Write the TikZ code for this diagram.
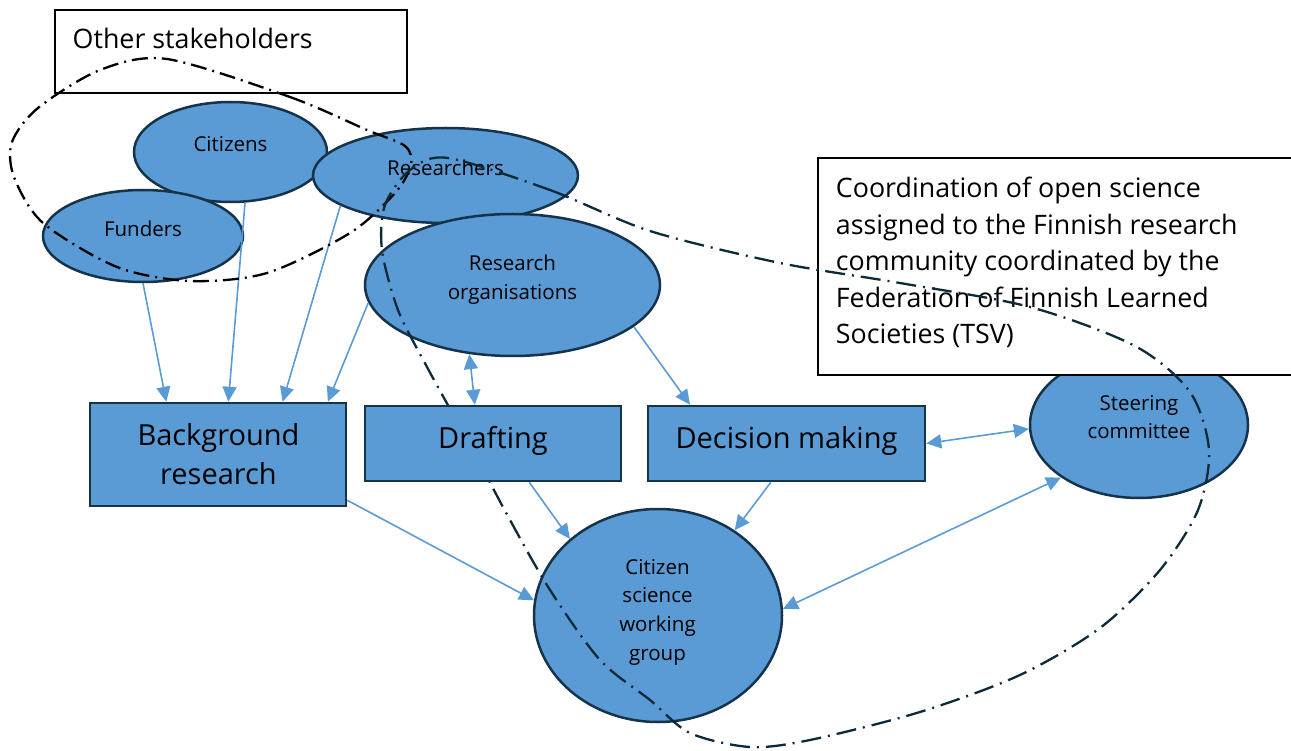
\documentclass[tikz,border=0pt]{standalone}
\usepackage{fontspec}
\setmainfont{Open Sans}
\usetikzlibrary{shapes.geometric,arrows.meta,calc}
\definecolor{nodeblue}{HTML}{5B9BD5}
\definecolor{outl}{HTML}{15334A}
\definecolor{arrowblue}{HTML}{5B9BD5}
\definecolor{curvedark}{HTML}{0D2A38}
\pgfdeclarelayer{front}
\pgfsetlayers{main,front}
\begin{document}
\begin{tikzpicture}[x=1pt,y=-1pt,
  ell/.style={ellipse,draw=outl,fill=nodeblue,line width=2.5pt,inner sep=0pt},
  blk/.style={rectangle,draw=outl,fill=nodeblue,line width=2.5pt,inner sep=0pt},
  etext/.style={inner sep=0pt,font=\fontsize{20.5}{28.7}\selectfont,align=center,text=black},
  btext/.style={inner sep=0pt,font=\fontsize{29}{39}\selectfont,align=center,text=black},
  ltext/.style={inner sep=0pt,font=\fontsize{26.8}{36.5}\selectfont,align=left,text=black},
  conn/.style={draw=arrowblue,line width=1.6pt,-{Triangle[length=15pt,width=14pt]}},
  biconn/.style={draw=arrowblue,line width=1.6pt,{Triangle[length=15pt,width=14pt]}-{Triangle[length=15pt,width=14pt]}},
  frame/.style={draw=black,fill=white,line width=1.6pt},
  grpA/.style={draw=black,line width=2.3pt,dash pattern=on 16pt off 6pt on 2pt off 6pt},
  grpB/.style={draw=curvedark,line width=2.3pt,dash pattern=on 20pt off 7pt on 2pt off 7pt}]
\useasboundingbox (0,0) rectangle (1291,751);

% Other stakeholders frame
\draw[frame] (54.75,9.75) rectangle (407.25,93.25);
\node[ltext,anchor=base west] (osT) at (72.5,48.3) {Other stakeholders};

% ellipses
\node[ell,minimum width=193pt,minimum height=100pt] (citizens) at (230.5,152) {};
\node[ell,minimum width=200pt,minimum height=92pt] (funders) at (143,236) {};
\node[ell,minimum width=265pt,minimum height=95pt] (researchers) at (445.5,175.5) {};
\node[ell,minimum width=295pt,minimum height=142pt] (ro) at (512.5,285) {};
\node[ell,minimum width=218pt,minimum height=146pt] (steer) at (1139,425) {};
\node[ell,minimum width=248pt,minimum height=213pt] (cswg) at (658,615.5) {};

\node[etext,anchor=base] (citT) at (230.5,152) {Citizens};
\node[etext,anchor=base] (funT) at (143,237) {Funders};
\node[etext,anchor=base] (resT) at (445.5,175.5) {Researchers};
\node[etext] (roT) at (512.5,280) {Research\\organisations};
\node[etext] (stT) at (1139,417) {Steering\\committee};
\node[etext] (cswgT) at (657.5,612) {Citizen\\science\\working\\group};

% boxes
\node[blk,minimum width=256pt,minimum height=103pt] (bg) at (218,454.5) {};
\node[btext] (bgT) at (218.5,454) {Background\\research};
\begin{pgfonlayer}{front}
\node[blk,minimum width=256pt,minimum height=75pt] (drafting) at (493,443.5) {};
\node[btext,anchor=base] (drT) at (493,448) {Drafting};
\end{pgfonlayer}
\node[blk,minimum width=277pt,minimum height=75pt] (decision) at (786.5,443.5) {};
\node[btext,anchor=base] (dmT) at (786.5,448) {Decision making};

% connectors
\draw[conn] (funders.south) -- ($(bg.north west)!0.30!(bg.north east)$);
\draw[conn] (citizens.-74) -- ($(bg.north west)!0.54!(bg.north east)$);
\draw[conn] (researchers.-164) -- ($(bg.north west)!0.75!(bg.north east)$);
\draw[conn] (ro.-173) -- ($(bg.north west)!0.925!(bg.north east)$);
\draw[biconn] (ro.-122) -- ($(drafting.north west)!0.43!(drafting.north east)$);
\draw[conn] (ro.-19) -- ($(decision.north west)!0.155!(decision.north east)$);
\draw[conn] ($(bg.south east)+(0,-7)$) -- (cswg.173);
\draw[conn] ($(drafting.south west)!0.64!(drafting.south east)$) -- (cswg.139);
\draw[conn] ($(decision.south west)!0.444!(decision.south east)$) -- (cswg.48);
\draw[biconn] (steer.182) -- (decision.east);
\draw[biconn] (steer.214) -- (cswg.3);

% TSV frame
\draw[frame] (817.75,157.75) rectangle (1320,375.25);
\node[ltext,anchor=north west] (tsvT) at (835.7,176.9) {Coordination of open science\\assigned to the Finnish research\\community coordinated by the\\Federation of Finnish Learned\\Societies (TSV)};

% group outlines
\draw[grpA] plot[smooth cycle] coordinates {(167,59) (290,97) (367,130) (405,146) (411,165) (395,193) (350,233) (267,273) (190,281) (117,267) (43,223) (14,177) (12,142) (38,108) (100,70)};
\draw[grpB] plot[smooth cycle] coordinates {(448,158) (550,190) (650,231) (780,263) (900,283) (1030,307) (1135,346) (1190,392) (1209,450) (1198,510) (1160,570) (1100,628) (1020,675) (920,712) (810,740) (750,747) (690,733) (650,700) (600,660) (550,590) (510,520) (470,445) (427,367) (398,310) (382,250) (385,205) (410,170)};
\end{tikzpicture}
\end{document}
